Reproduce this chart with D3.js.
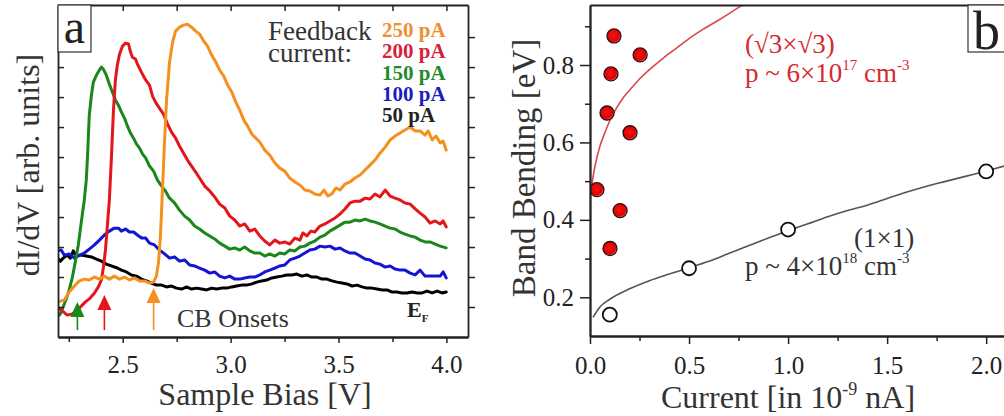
<!DOCTYPE html>
<html><head><meta charset="utf-8">
<script src="https://cdn.jsdelivr.net/npm/d3@7"></script>
<style>
body{margin:0;background:#fff}
svg{display:block}
text{font-family:"Liberation Serif","Times New Roman",serif}
</style>
</head><body>
<svg id="c" width="1004" height="416"></svg>
<script>
// ---------- Panel a data: dI/dV spectra (arb. units) vs sample bias (V) ----------
const bias250 = [2.197,2.229,2.252,2.276,2.299,2.322,2.345,2.369,2.392,2.415,2.438,2.461,2.485,2.508,2.531,2.554,2.578,2.601,2.624,2.643,2.656,2.666,2.675,2.684,2.694,2.703,2.717,2.731,2.745,2.763,2.782,2.800,2.819,2.838,2.856,2.875,2.893,2.912,2.931,2.949,2.968,2.986,3.005,3.024,3.042,3.061,3.079,3.098,3.117,3.135,3.158,3.181,3.205,3.228,3.251,3.274,3.298,3.321,3.344,3.367,3.390,3.414,3.432,3.451,3.469,3.488,3.507,3.530,3.553,3.576,3.600,3.623,3.646,3.669,3.692,3.716,3.739,3.762,3.785,3.808,3.832,3.855,3.878,3.901,3.915,3.934,3.952,3.971,3.985,3.999];
const didv250 = [1.17,1.23,1.50,1.70,1.87,1.93,1.90,2.00,1.93,2.03,1.93,2.03,1.93,2.00,1.90,1.97,1.87,1.87,1.80,1.83,2.03,2.50,3.40,4.90,6.57,7.90,9.17,9.83,10.20,10.33,10.40,10.43,10.33,10.20,10.10,9.87,9.70,9.40,9.17,8.90,8.70,8.40,8.17,7.83,7.57,7.23,7.03,6.77,6.63,6.50,6.23,6.07,5.80,5.63,5.53,5.30,5.17,5.07,4.90,4.87,4.77,4.73,4.90,4.70,4.77,4.97,4.90,5.10,5.17,5.30,5.40,5.57,5.73,5.90,6.13,6.33,6.57,6.70,6.80,6.90,7.00,6.87,6.87,6.73,6.87,6.57,6.70,6.47,6.53,6.23];

const bias200 = [2.197,2.220,2.243,2.266,2.290,2.308,2.327,2.345,2.369,2.387,2.401,2.410,2.420,2.429,2.438,2.447,2.457,2.466,2.475,2.485,2.499,2.513,2.527,2.536,2.545,2.559,2.568,2.582,2.596,2.610,2.624,2.638,2.652,2.670,2.689,2.708,2.726,2.745,2.763,2.782,2.800,2.819,2.838,2.856,2.880,2.903,2.926,2.949,2.973,2.996,3.019,3.042,3.065,3.089,3.112,3.135,3.158,3.181,3.205,3.228,3.251,3.274,3.298,3.321,3.335,3.353,3.372,3.390,3.414,3.437,3.460,3.484,3.507,3.530,3.553,3.576,3.600,3.623,3.646,3.669,3.692,3.716,3.739,3.762,3.785,3.808,3.832,3.855,3.878,3.901,3.924,3.948,3.971,3.985,3.999];
const didv200 = [1.00,0.87,0.73,0.77,0.90,1.03,1.17,1.27,1.47,1.67,1.90,2.30,2.90,3.73,4.57,5.90,7.57,8.57,9.07,9.43,9.70,9.80,9.77,9.50,9.33,9.27,9.10,8.90,8.70,8.53,8.40,8.03,7.83,7.63,7.43,7.10,6.83,6.63,6.37,6.13,5.90,5.70,5.50,5.30,5.03,4.87,4.67,4.43,4.30,4.03,3.90,3.70,3.77,3.53,3.60,3.37,3.20,3.07,3.23,3.13,3.17,3.10,3.30,3.23,3.47,3.37,3.53,3.50,3.70,3.77,3.87,3.97,4.10,4.27,4.47,4.53,4.53,4.63,4.60,4.77,4.67,4.90,4.70,4.63,4.57,4.47,4.43,4.27,4.13,4.00,3.80,3.87,3.77,3.87,3.67];

const bias150 = [2.197,2.211,2.224,2.238,2.252,2.266,2.280,2.294,2.308,2.322,2.331,2.336,2.341,2.345,2.355,2.364,2.378,2.392,2.401,2.410,2.424,2.438,2.452,2.466,2.480,2.494,2.508,2.522,2.536,2.550,2.564,2.578,2.592,2.606,2.624,2.643,2.661,2.680,2.698,2.717,2.740,2.763,2.787,2.810,2.833,2.856,2.880,2.903,2.926,2.949,2.973,2.996,3.019,3.042,3.065,3.089,3.112,3.135,3.158,3.181,3.205,3.228,3.251,3.274,3.298,3.321,3.344,3.367,3.390,3.414,3.437,3.460,3.484,3.507,3.530,3.553,3.576,3.600,3.623,3.646,3.669,3.692,3.716,3.739,3.762,3.785,3.808,3.832,3.855,3.878,3.901,3.924,3.948,3.971,3.999];
const didv150 = [0.67,0.77,1.00,1.27,1.57,1.97,2.50,3.07,3.83,4.57,5.23,5.90,6.73,7.40,8.07,8.50,8.73,8.90,9.00,8.93,8.73,8.43,8.17,7.90,7.73,7.50,7.30,7.03,6.80,6.63,6.43,6.30,6.10,5.97,5.70,5.53,5.23,5.03,4.87,4.63,4.47,4.23,4.03,3.90,3.70,3.60,3.47,3.37,3.27,3.13,3.03,2.93,2.97,2.90,3.00,2.87,2.80,2.80,2.70,2.77,2.70,2.80,2.77,2.90,2.87,3.00,3.03,3.13,3.20,3.33,3.40,3.53,3.63,3.73,3.83,3.83,3.90,3.87,3.93,3.87,3.83,3.77,3.70,3.63,3.60,3.50,3.43,3.37,3.33,3.23,3.17,3.17,3.10,3.03,2.97];

const bias100 = [2.197,2.215,2.229,2.252,2.276,2.299,2.322,2.345,2.369,2.392,2.415,2.438,2.461,2.480,2.494,2.513,2.531,2.550,2.568,2.587,2.606,2.624,2.647,2.670,2.694,2.717,2.740,2.763,2.787,2.810,2.833,2.856,2.880,2.903,2.926,2.949,2.973,2.996,3.019,3.042,3.065,3.089,3.112,3.135,3.158,3.181,3.205,3.228,3.251,3.274,3.298,3.321,3.344,3.367,3.390,3.414,3.437,3.460,3.484,3.507,3.530,3.553,3.576,3.600,3.623,3.646,3.669,3.692,3.716,3.739,3.762,3.785,3.808,3.832,3.855,3.878,3.901,3.924,3.948,3.971,3.985,3.999];
const didv100 = [2.87,2.90,2.73,2.77,2.63,2.73,2.80,2.93,3.07,3.23,3.40,3.53,3.63,3.63,3.53,3.60,3.50,3.50,3.40,3.30,3.30,3.13,3.07,2.90,2.77,2.63,2.67,2.53,2.57,2.40,2.37,2.30,2.23,2.13,2.17,2.03,1.97,2.03,1.93,1.93,1.97,2.00,2.00,2.07,2.17,2.23,2.30,2.37,2.40,2.57,2.63,2.70,2.80,2.90,2.93,3.03,3.00,3.03,2.93,2.97,2.87,2.80,2.80,2.70,2.60,2.57,2.47,2.43,2.33,2.37,2.27,2.23,2.23,2.13,2.07,2.23,2.03,2.03,2.03,2.03,2.17,1.97];

const bias50 = [2.197,2.211,2.224,2.243,2.257,2.271,2.285,2.308,2.331,2.355,2.378,2.401,2.424,2.447,2.475,2.494,2.517,2.540,2.564,2.587,2.610,2.633,2.656,2.680,2.703,2.726,2.749,2.773,2.796,2.819,2.842,2.866,2.889,2.912,2.935,2.958,2.982,3.005,3.028,3.051,3.075,3.098,3.121,3.144,3.167,3.191,3.214,3.237,3.260,3.284,3.307,3.330,3.353,3.377,3.400,3.423,3.446,3.470,3.493,3.516,3.539,3.563,3.586,3.609,3.632,3.655,3.678,3.702,3.725,3.748,3.771,3.794,3.818,3.841,3.864,3.887,3.910,3.934,3.957,3.980,3.999];
const didv50 = [2.63,2.53,2.63,2.73,2.63,2.87,2.70,2.73,2.70,2.67,2.60,2.53,2.43,2.37,2.30,2.23,2.17,2.07,2.03,1.93,1.87,1.80,1.73,1.73,1.67,1.70,1.63,1.60,1.67,1.60,1.63,1.60,1.57,1.63,1.60,1.63,1.63,1.67,1.70,1.73,1.73,1.77,1.83,1.87,1.90,1.97,2.00,2.03,2.07,2.07,2.10,2.03,2.07,2.00,2.00,1.93,1.93,1.87,1.83,1.80,1.77,1.70,1.73,1.67,1.63,1.63,1.60,1.57,1.57,1.50,1.50,1.47,1.47,1.50,1.47,1.47,1.53,1.47,1.53,1.47,1.50];

const legendLabels = ["250 pA","200 pA","150 pA","100 pA","50 pA"];
const biasMajorTicks = [2.5,3.0,3.5,4.0];
const biasMinorTicks = [2.25,2.75,3.25,3.75];
const didvTicks = [1,2,3,4,5,6,7,8,9,10];
// CB onset arrows (bias, arrow-tip height in dI/dV units)
const onsetBias = [2.29, 2.415, 2.643];
const onsetTip = [1.17, 1.40, 1.63];

// ---------- Panel b data: band bending (eV) vs current ----------
const current1x1 = [0.1, 0.5, 1.0, 2.0];
const bend1x1 = [0.155, 0.275, 0.375, 0.525];
const currentR3 = [0.035, 0.086, 0.101, 0.106, 0.121, 0.152, 0.202, 0.253];
const bendR3 = [0.478, 0.676, 0.326, 0.777, 0.875, 0.424, 0.625, 0.826];
const fitR3Current = [0.005,0.015,0.03,0.05,0.075,0.10,0.135,0.167,0.2,0.25,0.3,0.37,0.44,0.505,0.57,0.64,0.70,0.76,0.80];
const fitR3Bend = [0.47,0.51,0.55,0.59,0.625,0.656,0.69,0.715,0.735,0.764,0.788,0.818,0.845,0.87,0.892,0.913,0.932,0.952,0.965];
const fit1x1Current = [0.015,0.05,0.1,0.2,0.3,0.4,0.5,0.6,0.7,0.8,0.9,1.0,1.1,1.2,1.3,1.4,1.5,1.6,1.7,1.8,1.9,2.0,2.1];
const fit1x1Bend = [0.148,0.175,0.195,0.222,0.243,0.26,0.276,0.293,0.313,0.333,0.353,0.372,0.39,0.408,0.424,0.438,0.455,0.472,0.487,0.5,0.513,0.526,0.54];
const currentMajorTicks = [0,0.5,1.0,1.5,2.0];
const currentMinorTicks = [0.25,0.75,1.25,1.75];
const bendMajorTicks = [0.2,0.4,0.6,0.8];
const bendMinorTicks = [0.3,0.5,0.7,0.9];

// ---------- drawing ----------
const svg = d3.select("#c");
const AXC = "#222";
const defs = svg.append("defs");
defs.append("clipPath").attr("id","clipA").append("rect").attr("x",58).attr("y",5).attr("width",410).attr("height",332);
defs.append("clipPath").attr("id","clipB").append("rect").attr("x",590).attr("y",5).attr("width",414).attr("height",331);
const grad = defs.append("radialGradient").attr("id","dotGrad").attr("cx","45%").attr("cy","45%").attr("r","55%");
grad.append("stop").attr("offset","0%").attr("stop-color","#f21616");
grad.append("stop").attr("offset","80%").attr("stop-color","#e00000");
grad.append("stop").attr("offset","100%").attr("stop-color","#f4a0a0");

function styleAxis(g){
  g.selectAll(".domain").attr("stroke",AXC).attr("stroke-width",1.8);
  g.selectAll(".tick line").attr("stroke",AXC).attr("stroke-width",1.5);
  g.selectAll(".tick text").attr("fill","#222").style("font-size","25px").style("font-family","'Liberation Serif',serif");
}

// ----- Panel a -----
const ax = d3.scaleLinear([2.2,4.1],[58,468]);
const ay = d3.scaleLinear([0,11.07],[337,5]);
const fmt = d3.format(".1f");

const series = [
  {bias:bias50,  val:didv50,  color:"#000000"},
  {bias:bias100, val:didv100, color:"#1414d2"},
  {bias:bias150, val:didv150, color:"#1a871a"},
  {bias:bias200, val:didv200, color:"#e3161c"},
  {bias:bias250, val:didv250, color:"#f5901e"}
];
const line = d3.line().x(d=>ax(d[0])).y(d=>ay(d[1]));
const gA = svg.append("g").attr("clip-path","url(#clipA)");
series.forEach(s=>{
  gA.append("path").datum(d3.zip(s.bias,s.val)).attr("d",line)
    .attr("fill","none").attr("stroke",s.color).attr("stroke-width",3)
    .attr("stroke-linejoin","round").attr("stroke-linecap","round");
});

// axes a
svg.append("g").attr("transform","translate(0,337)")
  .call(d3.axisBottom(ax).tickValues(biasMajorTicks).tickSize(6).tickSizeOuter(0).tickPadding(12).tickFormat(fmt)).call(styleAxis);
svg.append("g").attr("transform","translate(0,337)")
  .call(d3.axisBottom(ax).tickValues(biasMinorTicks).tickSize(5).tickSizeOuter(0).tickFormat("")).call(styleAxis);
svg.append("g").attr("transform","translate(0,5)")
  .call(d3.axisBottom(ax).tickValues(biasMajorTicks.concat(biasMinorTicks)).tickSize(6).tickSizeOuter(0).tickFormat("")).call(styleAxis);
svg.append("g").attr("transform","translate(58,0)")
  .call(d3.axisRight(ay).tickValues(didvTicks).tickSize(6).tickSizeOuter(0).tickFormat("")).call(styleAxis);
svg.append("g").attr("transform","translate(468,0)")
  .call(d3.axisRight(ay).tickValues(didvTicks).tickSize(7).tickSizeOuter(0).tickFormat("")).call(styleAxis);

// onset arrows
const arrowColors = ["#1a871a","#e3161c","#f5901e"];
onsetBias.forEach((b,i)=>{
  const x = ax(b), yt = ay(onsetTip[i]), yb = ay(0.23);
  svg.append("line").attr("x1",x).attr("x2",x).attr("y1",yt+10).attr("y2",yb)
    .attr("stroke",arrowColors[i]).attr("stroke-width",1.6);
  svg.append("path").attr("d",`M${x},${yt} L${x-7},${yt+15} L${x+7},${yt+15} Z`).attr("fill",arrowColors[i]);
});

// panel a texts
svg.append("rect").attr("x",58).attr("y",5).attr("width",33).attr("height",47).attr("fill","#fff").attr("stroke","#333").attr("stroke-width",1.2);
svg.append("text").attr("x",74.5).attr("y",43).attr("text-anchor","middle").style("font-size","48px").attr("fill","#222").text("a");
svg.append("text").attr("x",268).attr("y",40).style("font-size","27px").attr("fill","#333").text("Feedback");
svg.append("text").attr("x",268).attr("y",62).style("font-size","27px").attr("fill","#333").text("current:");
const legendColors = ["#ef9030","#d8203a","#1f8a2a","#1c1cc0","#222"];
legendLabels.forEach((t,i)=>{
  svg.append("text").attr("x",382).attr("y",37+i*21.3).style("font-size","21px").style("font-weight","bold")
    .attr("fill",legendColors[i]).text(t);
});
svg.append("text").attr("x",177).attr("y",327).style("font-size","26px").attr("fill","#333").text("CB Onsets");
const ef = svg.append("text").attr("x",407).attr("y",317).style("font-weight","bold").attr("fill","#222");
ef.append("tspan").style("font-size","22px").text("E");
ef.append("tspan").attr("dy",5).style("font-size","11px").text("F");

svg.append("text").attr("transform","translate(39,165) rotate(-90)").attr("text-anchor","middle")
  .style("font-size","32px").attr("fill","#333").text("dI/dV [arb. units]");
svg.append("text").attr("x",265).attr("y",405).attr("text-anchor","middle")
  .style("font-size","32px").attr("fill","#333").text("Sample Bias [V]");

// ----- Panel b -----
const bx = d3.scaleLinear([0,2.09],[590,1004]);
const by = d3.scaleLinear([0.1,0.955],[336,5]);
const lineB = d3.line().x(d=>bx(d[0])).y(d=>by(d[1]));
const gB = svg.append("g").attr("clip-path","url(#clipB)");
gB.append("path").datum(d3.zip(fitR3Current,fitR3Bend)).attr("d",lineB.curve(d3.curveMonotoneX))
  .attr("fill","none").attr("stroke","#d84848").attr("stroke-width",1.6);
gB.append("path").datum(d3.zip(fit1x1Current,fit1x1Bend)).attr("d",lineB.curve(d3.curveMonotoneX))
  .attr("fill","none").attr("stroke","#555").attr("stroke-width",1.6);
gB.selectAll("circle.r3").data(d3.zip(currentR3,bendR3)).join("circle").attr("class","r3")
  .attr("cx",d=>bx(d[0])).attr("cy",d=>by(d[1])).attr("r",7)
  .attr("fill","url(#dotGrad)").attr("stroke","#2a1010").attr("stroke-width",1.3);
gB.selectAll("circle.o1").data(d3.zip(current1x1,bend1x1)).join("circle").attr("class","o1")
  .attr("cx",d=>bx(d[0])).attr("cy",d=>by(d[1])).attr("r",7)
  .attr("fill","#fff").attr("stroke","#111").attr("stroke-width",1.8);

svg.append("g").attr("transform","translate(0,336)")
  .call(d3.axisBottom(bx).tickValues(currentMajorTicks).tickSize(8).tickSizeOuter(0).tickPadding(12).tickFormat(fmt)).call(styleAxis);
svg.append("g").attr("transform","translate(0,336)")
  .call(d3.axisBottom(bx).tickValues(currentMinorTicks).tickSize(5).tickSizeOuter(0).tickFormat("")).call(styleAxis);
svg.append("g").attr("transform","translate(590,0)")
  .call(d3.axisLeft(by).tickValues(bendMajorTicks).tickSize(10).tickSizeOuter(0).tickPadding(6).tickFormat(fmt)).call(styleAxis);
svg.append("g").attr("transform","translate(590,0)")
  .call(d3.axisLeft(by).tickValues(bendMinorTicks).tickSize(5).tickSizeOuter(0).tickFormat("")).call(styleAxis);
svg.append("g").attr("transform","translate(0,5)")
  .call(d3.axisTop(bx).tickValues([]).tickSizeOuter(0)).call(styleAxis);

svg.append("rect").attr("x",968).attr("y",5).attr("width",50).attr("height",47).attr("fill","#fff").attr("stroke","#333").attr("stroke-width",1.2);
svg.append("text").attr("x",973).attr("y",49).style("font-size","54px").attr("fill","#222").text("b");

// annotations panel b
const RC = "#d42a30";
svg.append("text").attr("x",745).attr("y",53).style("font-size","27px").attr("fill",RC).text("(√3×√3)");
const t1 = svg.append("text").attr("x",745).attr("y",82).style("font-size","27px").attr("fill",RC);
t1.append("tspan").text("p ~ 6×10");
t1.append("tspan").attr("dy",-12).style("font-size","15px").text("17");
t1.append("tspan").attr("dy",12).text(" cm");
t1.append("tspan").attr("dy",-12).style("font-size","15px").text("-3");

svg.append("text").attr("x",854).attr("y",247).style("font-size","27px").attr("fill","#333").text("(1×1)");
const t2 = svg.append("text").attr("x",745).attr("y",275).style("font-size","27px").attr("fill","#333");
t2.append("tspan").text("p ~ 4×10");
t2.append("tspan").attr("dy",-12).style("font-size","15px").text("18");
t2.append("tspan").attr("dy",12).text(" cm");
t2.append("tspan").attr("dy",-12).style("font-size","15px").text("-3");

svg.append("text").attr("transform","translate(535,168) rotate(-90)").attr("text-anchor","middle")
  .style("font-size","33px").attr("fill","#333").text("Band Bending [eV]");
const xl = svg.append("text").attr("x",788).attr("y",408).attr("text-anchor","middle").style("font-size","32px").attr("fill","#333");
xl.append("tspan").text("Current [in 10");
xl.append("tspan").attr("dy",-13).style("font-size","18px").text("-9");
xl.append("tspan").attr("dy",13).text(" nA]");
</script>
</body></html>
